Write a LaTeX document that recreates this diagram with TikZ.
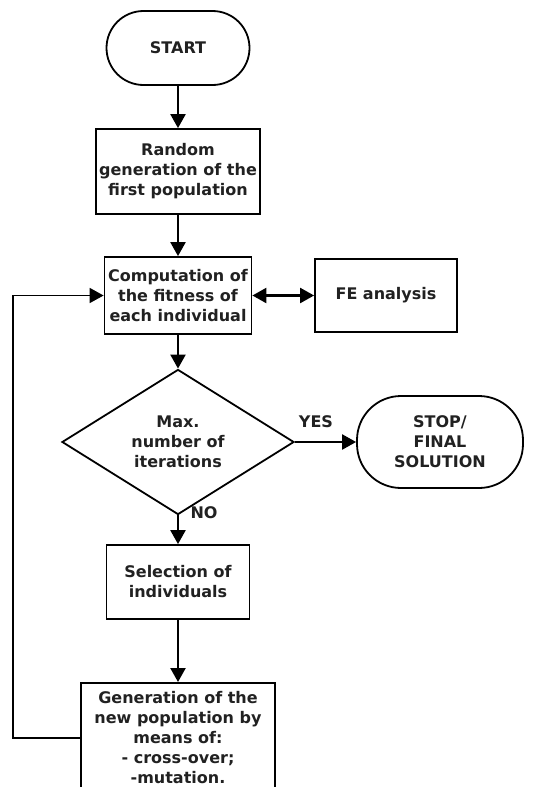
\documentclass[tikz,border=0pt]{standalone}
\usepackage{fontspec}
\setmainfont{DejaVu Sans}
\usetikzlibrary{shapes.geometric,arrows.meta,calc}
\begin{document}
\begin{tikzpicture}[x=1pt,y=1pt,
  every node/.style={font=\bfseries\fontsize{16}{20}\selectfont, text=black!87, inner sep=0pt, align=center},
  box/.style={draw, line width=1.8pt, rectangle},
  term/.style={draw, line width=1.8pt, rectangle},
  dec/.style={draw, diamond, line width=1.8pt},
  arr/.style={line width=2.3pt, -{Triangle[width=15pt,length=14pt]}},
  dbl/.style={line width=2.3pt, {Triangle[width=15pt,length=14pt]}-{Triangle[width=15pt,length=14pt]}},
  lin/.style={line width=1.8pt}]
\useasboundingbox (0,0) rectangle (541,-787);
\clip (0,0) rectangle (541,-787);
\node[term, minimum width=143, minimum height=74, rounded corners=37] (start) at (178,-48) {START};
\node[box, minimum width=164, minimum height=85] (rand) at (178,-171.5) {Random\\generation of the\\first population};
\node[box, minimum width=147, minimum height=77] (comp) at (178,-295.5) {Computation of\\the fitness of\\each individual};
\node[box, minimum width=142, minimum height=73] (fe) at (386,-295.5) {FE analysis};
\node[dec, minimum width=232, minimum height=120] (max) at (178,-442) {Max.\\number of\\iterations};
\node[term, minimum width=166, minimum height=92, rounded corners=44] (stop) at (440,-442) {STOP/\\FINAL\\SOLUTION};
\node[box, minimum width=143, minimum height=74] (sel) at (178,-582) {Selection of\\individuals};
\node[box, minimum width=194, minimum height=110, anchor=north] (gen) at (178,-682) {Generation of the\\new population by\\means of:\\- cross-over;\\-mutation.};
\node (yes) at (316,-422) {YES};
\node (no) at (204,-513) {NO};
\coordinate (lc) at (13,-295.5);
\draw[arr] (start) -- (rand);
\draw[arr] (rand) -- (comp);
\draw[dbl] (comp) -- (fe);
\draw[arr] (comp) -- (max);
\draw[arr] (max) -- (stop);
\draw[arr] (max) -- (sel);
\draw[arr] (sel) -- (gen);
\draw[lin, -{Triangle[width=15pt,length=14pt]}] (gen.west) -- (gen.west -| lc) -- (lc) -- (comp.west);
\end{tikzpicture}
\end{document}
